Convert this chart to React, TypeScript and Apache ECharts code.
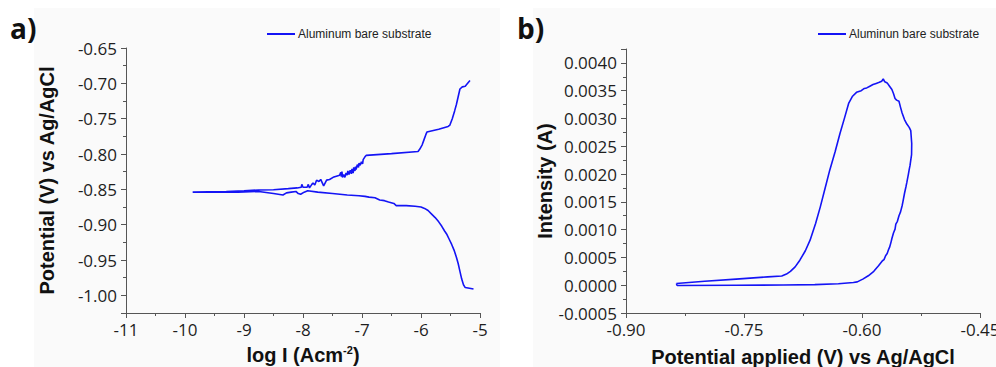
import React, { useEffect, useRef } from "react";
import * as echarts from "echarts";

// ---- Panel a) Tafel plot: log I (A cm^-2) vs potential (V vs Ag/AgCl) ----
const tafelLogI = [
  -5.11, -5.18, -5.25, -5.28, -5.31, -5.34, -5.37, -5.40, -5.44, -5.48, -5.52, -5.56, -5.60, -5.65, -5.70,
  -5.76, -5.82, -5.88, -5.94, -6.00, -6.10, -6.25, -6.42, -6.46, -6.55, -6.62, -6.70, -6.78, -6.88, -6.95,
  -7.05, -7.25, -7.50, -7.75, -7.92, -7.98, -8.04, -8.08, -8.12, -8.20, -8.28, -8.34, -8.50, -8.75, -9.10,
  -9.50, -9.87,
  -9.60, -9.30, -9.00, -8.75, -8.50, -8.25, -8.10, -8.03, -8.02, -8.00, -7.93, -7.91, -7.89, -7.85, -7.83,
  -7.80, -7.77, -7.73, -7.70, -7.65, -7.60, -7.55, -7.49, -7.42, -7.38, -7.36, -7.35, -7.34, -7.33, -7.31,
  -7.29, -7.27, -7.25, -7.24, -7.22, -7.20, -7.18, -7.17, -7.15, -7.14, -7.12, -7.11, -7.10, -7.08, -7.06,
  -7.05, -7.03, -7.01, -6.99, -6.98, -6.95, -6.93, -6.50, -6.05, -6.02, -5.98,
  -5.95, -5.92, -5.90, -5.70, -5.54, -5.51, -5.47, -5.43, -5.40, -5.37, -5.34, -5.30, -5.25, -5.22, -5.17,
];
const tafelPotential = [
  -0.991, -0.990, -0.989, -0.985, -0.977, -0.966, -0.955, -0.946, -0.936, -0.928, -0.921, -0.914, -0.909, -0.902, -0.896,
  -0.890, -0.885, -0.880, -0.877, -0.875, -0.874, -0.873, -0.873, -0.870, -0.868, -0.866, -0.865, -0.862, -0.861, -0.860,
  -0.859, -0.858, -0.856, -0.854, -0.852, -0.854, -0.857, -0.856, -0.853, -0.854, -0.855, -0.858, -0.856, -0.853, -0.854,
  -0.854, -0.854,
  -0.8535, -0.853, -0.852, -0.851, -0.8505, -0.849, -0.848, -0.847, -0.843, -0.847, -0.847, -0.843, -0.848, -0.843, -0.841,
  -0.844, -0.837, -0.839, -0.836, -0.845, -0.837, -0.836, -0.833, -0.831, -0.830, -0.826, -0.832, -0.825, -0.833, -0.829,
  -0.833, -0.827, -0.830, -0.824, -0.829, -0.823, -0.828, -0.821, -0.827, -0.819, -0.824, -0.818, -0.822, -0.815, -0.819,
  -0.813, -0.816, -0.811, -0.814, -0.808, -0.804, -0.802, -0.7995, -0.7965, -0.793, -0.787,
  -0.780, -0.773, -0.769, -0.765, -0.761, -0.759, -0.750, -0.739, -0.730, -0.719, -0.708, -0.705, -0.704, -0.701, -0.696,
];

// ---- Panel b) cyclic polarisation: potential applied (V) vs intensity (A) ----
const cvPotential = [
  -0.836, -0.800, -0.760, -0.720, -0.702, -0.696, -0.691, -0.685, -0.679, -0.672, -0.666, -0.659, -0.653, -0.647,
  -0.641, -0.634, -0.628, -0.622, -0.617, -0.612, -0.607, -0.601, -0.597, -0.594, -0.590, -0.586, -0.582, -0.578,
  -0.575, -0.573, -0.571, -0.568, -0.565, -0.562, -0.560, -0.558, -0.556, -0.553, -0.551, -0.549, -0.546, -0.543,
  -0.540, -0.538, -0.5368, -0.537, -0.539, -0.540, -0.541, -0.543, -0.544, -0.546, -0.548, -0.549, -0.551, -0.553,
  -0.555, -0.557, -0.558, -0.560, -0.562, -0.563, -0.565, -0.566, -0.568, -0.570, -0.572, -0.574, -0.579, -0.585,
  -0.592, -0.599, -0.606, -0.611, -0.630, -0.660, -0.700, -0.760, -0.835, -0.836,
];
const cvCurrent = [
  0.00003, 0.00007, 0.00011, 0.00015, 0.000166, 0.0002, 0.00025, 0.00033, 0.00045, 0.00062, 0.00081, 0.00111, 0.00141, 0.00174,
  0.00207, 0.00241, 0.00273, 0.00302, 0.00327, 0.0034, 0.00347, 0.0035, 0.00354, 0.00355, 0.00358, 0.00361, 0.00363, 0.00365,
  0.00367, 0.00371, 0.00366, 0.00364, 0.00358, 0.00352, 0.00345, 0.00336, 0.00333, 0.00331, 0.0032, 0.0031, 0.00298, 0.0029,
  0.00284, 0.00278, 0.00255, 0.00235, 0.00215, 0.00208, 0.002, 0.00185, 0.00178, 0.00165, 0.0015, 0.00143, 0.00132, 0.00125,
  0.00115, 0.0011, 0.00101, 0.00094, 0.00084, 0.00078, 0.00068, 0.00065, 0.00057, 0.00053, 0.00046, 0.00044, 0.00035, 0.00025,
  0.00017, 0.00011, 0.00006, 0.00005, 0.000025, 0.00001, 0.000003, 0.0, -0.000005, 0.00003,
];

const seriesNameA = "Aluminum bare substrate";
const seriesNameB = "Aluminun bare substrate";

const LINE_COLOR = "#1414f5";
const AXIS_COLOR = "#555555";
const LABEL_FONT = "'Open Sans', 'DejaVu Sans', sans-serif";
const TITLE_FONT = "'Liberation Sans', Arial, sans-serif";

function axisCommon() {
  return {
    axisLine: { show: true, onZero: false, lineStyle: { color: AXIS_COLOR, width: 1 } },
    axisTick: { show: true, inside: false, length: 5, lineStyle: { color: AXIS_COLOR, width: 1 } },
    minorTick: { show: true, splitNumber: 2, length: 3, lineStyle: { color: AXIS_COLOR, width: 1 } },
    splitLine: { show: false },
    minorSplitLine: { show: false },
  };
}

const labelStyle = { fontFamily: LABEL_FONT, fontSize: 17, color: "#1e1e1e" };
const titleStyle = { fontFamily: TITLE_FONT, fontSize: 20, fontWeight: "bold" as const, color: "#111111" };

export default function App() {
  const ref = useRef<HTMLDivElement>(null);

  useEffect(() => {
    if (!ref.current) return;
    const chart = echarts.init(ref.current, null, { renderer: "svg" });

    const tafel = tafelLogI.map((x, i) => [x, tafelPotential[i]]);
    const cv = cvPotential.map((x, i) => [x, cvCurrent[i]]);

    chart.setOption({
      animation: false,
      backgroundColor: "#ffffff",
      graphic: [
        { type: "rect", z: -10, shape: { x: 34, y: 8, width: 466, height: 359 }, style: { fill: "#fafafa" } },
        { type: "rect", z: -10, shape: { x: 533, y: 8, width: 463, height: 359 }, style: { fill: "#fafafa" } },
        {
          type: "text",
          x: 10,
          y: 28,
          style: {
            text: "a)",
            fontFamily: "'Open Sans', sans-serif",
            fontWeight: "bold",
            fontSize: 28,
            fill: "#111111",
            verticalAlign: "middle",
          },
        },
        {
          type: "text",
          x: 517,
          y: 28,
          style: {
            text: "b)",
            fontFamily: "'Open Sans', sans-serif",
            fontWeight: "bold",
            fontSize: 28,
            fill: "#111111",
            verticalAlign: "middle",
          },
        },
      ],
      legend: [
        {
          data: [seriesNameA],
          left: 267,
          top: 28,
          padding: 0,
          icon: "rect",
          itemWidth: 28,
          itemHeight: 2,
          itemGap: 4,
          textStyle: { fontFamily: TITLE_FONT, fontSize: 12, color: "#222222", padding: [0, 0, 0, -2] },
        },
        {
          data: [seriesNameB],
          left: 818,
          top: 28,
          padding: 0,
          icon: "rect",
          itemWidth: 28,
          itemHeight: 2,
          itemGap: 4,
          textStyle: { fontFamily: TITLE_FONT, fontSize: 12, color: "#222222", padding: [0, 0, 0, -2] },
        },
      ],
      grid: [
        { left: 126, top: 48, width: 354, height: 265, outerBoundsMode: "none" },
        { left: 626, top: 49, width: 354, height: 264, outerBoundsMode: "none" },
      ],
      xAxis: [
        {
          type: "value",
          gridIndex: 0,
          min: -11,
          max: -5,
          interval: 1,
          ...axisCommon(),
          axisLabel: { ...labelStyle, margin: 8, formatter: (v: number) => String(Math.round(v)) },
          name: "{b|log I (Acm}{s|-2}{b|)}",
          nameLocation: "middle",
          nameGap: 31,
          nameTextStyle: {
            rich: {
              b: { ...titleStyle, lineHeight: 22 },
              s: { fontFamily: TITLE_FONT, fontSize: 11, fontWeight: "bold", color: "#111111", lineHeight: 22, verticalAlign: "top" },
            },
          },
        },
        {
          type: "value",
          gridIndex: 1,
          min: -0.9,
          max: -0.45,
          interval: 0.15,
          ...axisCommon(),
          axisLabel: { ...labelStyle, margin: 8, formatter: (v: number) => v.toFixed(2) },
          name: "Potential applied (V) vs Ag/AgCl",
          nameLocation: "middle",
          nameGap: 34,
          nameTextStyle: { ...titleStyle },
        },
      ],
      yAxis: [
        {
          type: "value",
          gridIndex: 0,
          min: -1.025,
          max: -0.65,
          splitNumber: 7,
          ...axisCommon(),
          axisLabel: { ...labelStyle, margin: 9, showMinLabel: false, formatter: (v: number) => v.toFixed(2) },
          name: "Potential (V) vs Ag/AgCl",
          nameLocation: "middle",
          nameGap: 69,
          nameTextStyle: { ...titleStyle },
        },
        {
          type: "value",
          gridIndex: 1,
          min: -0.0005,
          max: 0.00425,
          splitNumber: 9,
          ...axisCommon(),
          axisLabel: { ...labelStyle, margin: 9, showMaxLabel: false, formatter: (v: number) => v.toFixed(4) },
          name: "Intensity (A)",
          nameLocation: "middle",
          nameGap: 70,
          nameTextStyle: { ...titleStyle },
        },
      ],
      series: [
        {
          name: seriesNameA,
          type: "line",
          xAxisIndex: 0,
          yAxisIndex: 0,
          data: tafel,
          symbol: "none",
          smooth: false,
          lineStyle: { color: LINE_COLOR, width: 1.6 },
          itemStyle: { color: LINE_COLOR },
        },
        {
          name: seriesNameB,
          type: "line",
          xAxisIndex: 1,
          yAxisIndex: 1,
          data: cv,
          symbol: "none",
          smooth: false,
          lineStyle: { color: LINE_COLOR, width: 1.6 },
          itemStyle: { color: LINE_COLOR },
        },
      ],
    });

    return () => chart.dispose();
  }, []);

  return (
    <div
      ref={ref}
      style={{ position: "fixed", left: 0, top: 0, width: 996, height: 367 }}
    />
  );
}
